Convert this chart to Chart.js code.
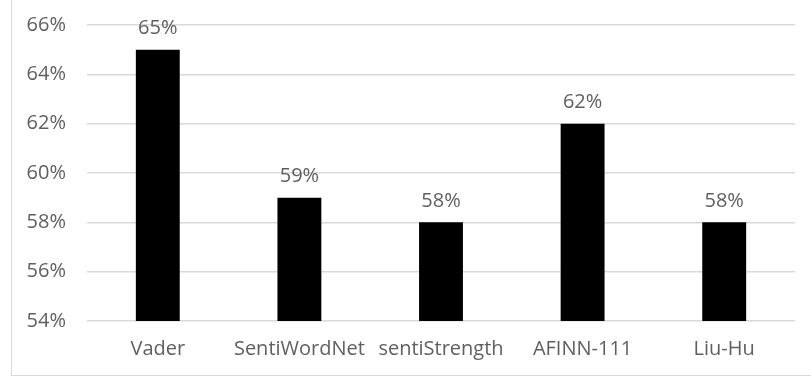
<!DOCTYPE html>
<html>
<head>
<meta charset="utf-8">
<script src="https://cdn.jsdelivr.net/npm/chart.js@4/dist/chart.umd.min.js"></script>
<style>
  html, body { margin: 0; padding: 0; background: #fff; }
  #wrap { position: relative; width: 811px; height: 379px; overflow: hidden; }
  #frame {
    position: absolute; left: 11px; top: -2px; width: 820px; height: 378px;
    border-left: 1.5px solid #d9d9d9; border-bottom: 1.5px solid #d9d9d9; box-sizing: border-box;
  }
  canvas { position: absolute; left: 0; top: 0; }
</style>
</head>
<body>
<div id="wrap">
  <div id="frame"></div>
  <canvas id="c" width="811" height="379"></canvas>
</div>
<script>
const categories = ['Vader', 'SentiWordNet', 'sentiStrength', 'AFINN-111', 'Liu-Hu'];
const accuracy = [65, 59, 58, 62, 58];
const yTicks = [54, 56, 58, 60, 62, 64, 66];

const FONT = { family: "'Open Sans', sans-serif", size: 20 };
const TEXT = '#5f5f5f';

// Writes the percentage above each bar
const valueLabels = {
  id: 'valueLabels',
  afterDatasetsDraw(chart) {
    const ctx = chart.ctx;
    const meta = chart.getDatasetMeta(0);
    ctx.save();
    ctx.font = FONT.size + 'px ' + FONT.family;
    ctx.fillStyle = TEXT;
    ctx.textAlign = 'center';
    ctx.textBaseline = 'middle';
    meta.data.forEach((bar, i) => {
      ctx.fillText(accuracy[i] + '%', bar.x, bar.y - 21);
    });
    ctx.restore();
  }
};

new Chart(document.getElementById('c'), {
  type: 'bar',
  data: {
    labels: categories,
    datasets: [{
      data: accuracy,
      backgroundColor: '#000000',
      borderWidth: 0,
      categoryPercentage: 1,
      barPercentage: 0.31
    }]
  },
  options: {
    responsive: false,
    animation: false,
    layout: { padding: { left: 0, right: 16, top: 25, bottom: 0 } },
    plugins: { legend: { display: false }, tooltip: { enabled: false } },
    scales: {
      x: {
        grid: { display: false, drawTicks: false },
        border: { display: false },
        ticks: { color: TEXT, font: FONT, padding: 16, maxRotation: 0, autoSkip: false },
        afterFit(scale) { scale.height = 58; scale.paddingLeft = 0; scale.paddingRight = 0; }
      },
      y: {
        min: 54, max: 66,
        afterBuildTicks(scale) { scale.ticks = yTicks.map(v => ({ value: v })); },
        grid: { color: '#d9d9d9', lineWidth: 1.5, drawTicks: false },
        border: { display: false },
        ticks: { color: TEXT, font: FONT, padding: 21, callback: v => v + '%' },
        afterFit(scale) { scale.width = 87; scale.paddingTop = 0; scale.paddingBottom = 0; }
      }
    }
  },
  plugins: [valueLabels]
});
</script>
</body>
</html>
